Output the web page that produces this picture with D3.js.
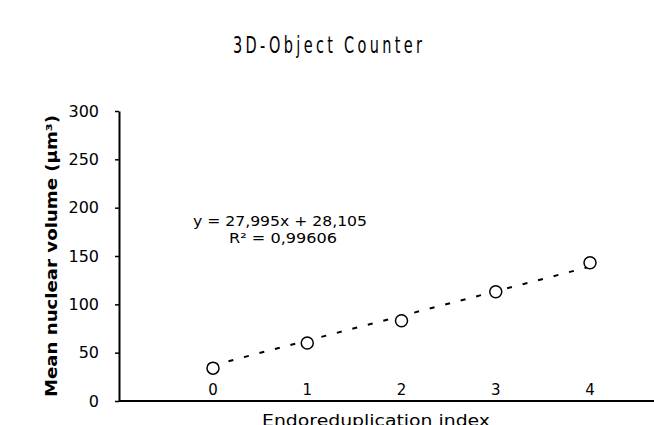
<!DOCTYPE html>
<html>
<head>
<meta charset="utf-8">
<script src="https://cdn.jsdelivr.net/npm/d3@7"></script>
<style>
    body { margin: 0; background: #fff; }
    svg { display: block; font-family: "DejaVu Sans", sans-serif; }
</style>
</head>
<body>
<div id="chart"></div>
<script>

// chart values
var categories = [0, 1, 2, 3, 4];
var volumes = [34, 60, 83, 113, 143];
var trendEnds = [37, 139];  // dashed trend line at index 0 and 4
var yTicks = [0, 50, 100, 150, 200, 250, 300];
var equationText = "y = 27,995x + 28,105";
var r2Text = "R² = 0,99606";

var width = 654, height = 425;

var svg = d3.select("#chart").append("svg")
    .attr("width", width)
    .attr("height", height);

var x = d3.scaleLinear().domain([0, 4]).range([213, 590]);
var y = d3.scaleLinear().domain([0, 300]).range([401, 111]);

// title - narrow glyphs, wide gaps
svg.append("g")
    .attr("transform", "translate(233,53) scale(0.7,1)")
    .append("text")
    .attr("x", 0)
    .attr("y", 0)
    .attr("textLength", 270)
    .attr("lengthAdjust", "spacing")
    .style("font-family", "'Liberation Sans Narrow', 'DejaVu Sans Condensed', sans-serif")
    .style("font-size", "23px")
    .text("3D-Object Counter");

// y axis
var yAxis = svg.append("g")
    .attr("transform", "translate(119,0)")
    .call(d3.axisLeft(y).tickValues(yTicks).tickSize(4).tickPadding(16).tickSizeOuter(0));
yAxis.select(".domain").attr("stroke-width", 2);
yAxis.selectAll("line").attr("stroke-width", 1.5);
yAxis.selectAll("text").style("font-size", "16px").style("font-family", "'DejaVu Sans', sans-serif");

// x axis line
svg.append("line")
    .attr("x1", 119).attr("x2", width)
    .attr("y1", y(0)).attr("y2", y(0))
    .attr("stroke", "#000")
    .attr("stroke-width", 2);

// x tick labels sit inside the plot, above the axis
svg.append("g").selectAll("text")
    .data(categories)
    .join("text")
    .attr("x", d => x(d))
    .attr("y", 395)
    .attr("text-anchor", "middle")
    .style("font-size", "15px")
    .text(d => d);

// axis titles
svg.append("text")
    .attr("transform", "translate(57,256) rotate(-90)")
    .attr("text-anchor", "middle")
    .attr("textLength", 282)
    .attr("lengthAdjust", "spacingAndGlyphs")
    .style("font-size", "16px")
    .style("font-weight", "600")
    .text("Mean nuclear volume (µm³)");

svg.append("text")
    .attr("x", 376)
    .attr("y", 426)
    .attr("text-anchor", "middle")
    .attr("textLength", 228)
    .attr("lengthAdjust", "spacingAndGlyphs")
    .style("font-size", "16px")
    .text("Endoreduplication index");

// trend line
svg.append("line")
    .attr("x1", x(categories[0])).attr("y1", y(trendEnds[0]))
    .attr("x2", x(categories[4])).attr("y2", y(trendEnds[1]))
    .attr("stroke", "#000")
    .attr("stroke-width", 2)
    .attr("stroke-dasharray", "5,11");

// points
svg.append("g").selectAll("circle")
    .data(categories)
    .join("circle")
    .attr("cx", d => x(d))
    .attr("cy", (d, i) => y(volumes[i]))
    .attr("r", 6)
    .attr("fill", "#fff")
    .attr("stroke", "#000")
    .attr("stroke-width", 1.5);

// equation
svg.append("text")
    .attr("x", 193)
    .attr("y", 226)
    .attr("textLength", 174)
    .attr("lengthAdjust", "spacingAndGlyphs")
    .style("font-size", "14px")
    .text(equationText);
svg.append("text")
    .attr("x", 229)
    .attr("y", 243)
    .attr("textLength", 108)
    .attr("lengthAdjust", "spacingAndGlyphs")
    .style("font-size", "14px")
    .text(r2Text);

</script>
</body>
</html>
